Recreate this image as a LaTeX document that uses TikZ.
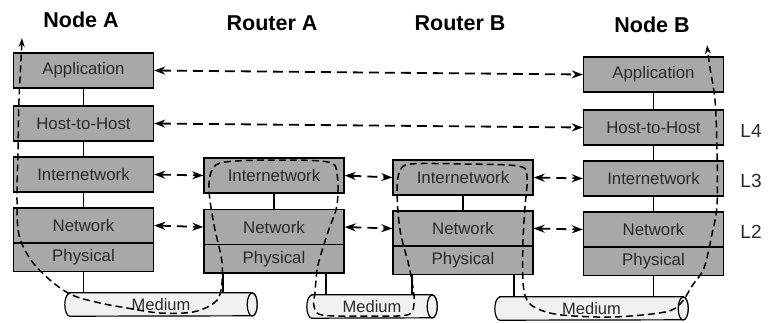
\documentclass[tikz,border=0pt]{standalone}
\usepackage{fontspec}
\setmainfont{Liberation Sans}
\usetikzlibrary{arrows.meta}
\definecolor{layerfill}{HTML}{A8A8A8}
\definecolor{mediumfill}{HTML}{F1F1F1}
\definecolor{inktext}{HTML}{2A2A2A}

\begin{document}
\begin{tikzpicture}[x=1pt,y=-1pt,
  layer/.style={draw=black, line width=1.3pt, fill=layerfill, text=inktext,
    font=\fontsize{16.8}{18}\selectfont, minimum width=140pt, inner sep=0pt,
    outer sep=0pt, anchor=north west},
  tall/.style={minimum height=35pt},
  short/.style={minimum height=28.5pt},
  title/.style={font=\fontsize{21.5}{24}\selectfont\bfseries, anchor=base},
  levelmark/.style={font=\fontsize{19}{22}\selectfont, anchor=base, text=inktext},
  medium/.style={text=inktext, font=\fontsize{16.5}{18}\selectfont,
    minimum height=23pt, inner sep=0pt},
  tube/.style={draw=black, line width=1.2pt, fill=mediumfill},
  stack/.style={line width=1.1pt},
  peer/.style={line width=1.8pt, dash pattern=on 10pt off 6pt,
    {Stealth[length=11pt,width=8pt]}-{Stealth[length=11pt,width=8pt]}},
  flow/.style={line width=1.5pt, dash pattern=on 7pt off 4pt,
    {Stealth[length=9pt,width=6pt]}-{Stealth[length=9pt,width=6pt]}},
]
\useasboundingbox (0,0) rectangle (768,322);

% column titles
\node[title] (tA)  at (81,27)  {Node A};
\node[title] (tRA) at (272,30) {Router A};
\node[title] (tRB) at (460,30) {Router B};
\node[title] (tB)  at (652,32) {Node B};

% Node A stack
\node[layer,tall] (nAapp)  at (13.5,53)  {Application};
\node[layer,tall] (nAhost) at (13.5,106) {Host-to-Host};
\node[layer,tall] (nAint)  at (13.5,157) {Internetwork};
\node[layer,tall] (nAnet)  at (13.5,208) {Network};
\node[layer,short] (nAphy) at (nAnet.south west) {Physical};

% Router A stack
\node[layer,tall] (rAint)  at (204,158)   {Internetwork};
\node[layer,tall] (rAnet)  at (204,209.5) {Network};
\node[layer,short] (rAphy) at (rAnet.south west) {Physical};

% Router B stack
\node[layer,tall] (rBint)  at (393,160) {Internetwork};
\node[layer,tall] (rBnet)  at (393,211) {Network};
\node[layer,short] (rBphy) at (rBnet.south west) {Physical};

% Node B stack
\node[layer,tall] (nBapp)  at (583.5,57)  {Application};
\node[layer,tall] (nBhost) at (583.5,110) {Host-to-Host};
\node[layer,tall] (nBint)  at (583.5,161) {Internetwork};
\node[layer,tall] (nBnet)  at (583.5,212) {Network};
\node[layer,short] (nBphy) at (nBnet.south west) {Physical};

% layer numbers
\node[levelmark] (l4) at (751,137) {L4};
\node[levelmark] (l3) at (751,187) {L3};
\node[levelmark] (l2) at (751,238) {L2};

% media: a horizontal tube drawn round each label
\node[medium, minimum width=192pt] (m1) at (161,304.5) {};
\node[medium, minimum width=130pt] (m2) at (372,306.5) {};
\node[medium, minimum width=193pt] (m3) at (591.5,308.5) {};
\foreach \m in {m1,m2,m3} {
  \draw[tube] ([xshift=5pt]\m.north west) -- ([xshift=-5pt]\m.north east)
    arc[start angle=90, end angle=-90, x radius=5pt, y radius=11.5pt]
    -- ([xshift=5pt]\m.south west)
    arc[start angle=270, end angle=90, x radius=5pt, y radius=11.5pt] -- cycle;
  \draw[tube] ([xshift=-5pt]\m.east) ellipse[x radius=5pt, y radius=11.5pt];
}
\node[medium] (m1t) at (m1) {Medium};
\node[medium] (m2t) at (m2) {Medium};
\node[medium] (m3t) at (m3) {Medium};

% links inside each stack
\draw[stack] (nAapp) -- (nAhost);
\draw[stack] (nAhost) -- (nAint);
\draw[stack] (nAint) -- (nAnet);
\draw[stack] (rAint) -- (rAnet);
\draw[stack] (rBint) -- (rBnet);
\draw[stack] (nBapp) -- (nBhost);
\draw[stack] (nBhost) -- (nBint);
\draw[stack] (nBint) -- (nBnet);

% attachments to the media
\coordinate (rAl) at ([xshift=19pt]rAphy.south west);
\coordinate (rAr) at ([xshift=-18pt]rAphy.south east);
\coordinate (rBl) at ([xshift=19pt]rBphy.south west);
\coordinate (rBr) at ([xshift=-19pt]rBphy.south east);
\draw[stack] (nAphy.south) -- (nAphy.south |- m1.north);
\draw[stack] (rAl) -- (rAl |- m1.north);
\draw[stack] (rAr) -- (rAr |- m2.north);
\draw[stack] (rBl) -- (rBl |- m2.north);
\draw[stack] (rBr) -- (rBr |- m3.north);
\draw[stack] (nBphy.south) -- (nBphy.south |- m3.north);

% peer-to-peer conversations
\draw[peer] ([xshift=0.7pt]nAapp.east) -- ([xshift=-0.7pt]nBapp.west);
\draw[peer] ([xshift=0.7pt]nAhost.east) -- ([xshift=-0.7pt]nBhost.west);
\draw[peer] ([xshift=0.7pt]nAint.east) -- ([xshift=-0.7pt]rAint.west);
\draw[peer] ([xshift=0.7pt]rAint.east) -- ([xshift=-0.7pt]rBint.west);
\draw[peer] ([xshift=0.7pt]rBint.east) -- ([xshift=-0.7pt]nBint.west);
\draw[peer] ([xshift=0.7pt]nAnet.east) -- ([xshift=-0.7pt]rAnet.west);
\draw[peer] ([xshift=0.7pt]rAnet.east) -- ([xshift=-0.7pt]rBnet.west);
\draw[peer] ([xshift=0.7pt]rBnet.east) -- ([xshift=-0.7pt]nBnet.west);

% path taken by the data
\coordinate (flowA) at (22,38);
\coordinate (flowB) at (707,45);
\draw[flow] plot[smooth, tension=0.55] coordinates {
  (flowA) (21,60) (19,100) (18,150) (17,200) (19,235) (31,260) (50,280)
  (72,295) (100,303) (127,308) (160,313) (193,312) (214,303) (221,290)
  (222,262) (214,225) (209,190) (212,170) (225,162) (275,160) (328,162)
  (337,174) (337,205) (328,232) (318,265) (315,292) (314,306) (322,315)
  (365,316) (407,315) (414,304) (413,288) (409,266) (400,230) (397,190)
  (400,171) (411,164) (462,164) (518,166) (527,176) (525,207) (523,240)
  (523,282) (527,300) (538,309) (562,315) (613,317) (665,312) (681,303)
  (692,286) (704,268) (712,234) (717,205) (717,150) (715,100) (710,68)
  (flowB)};
\end{tikzpicture}
\end{document}
